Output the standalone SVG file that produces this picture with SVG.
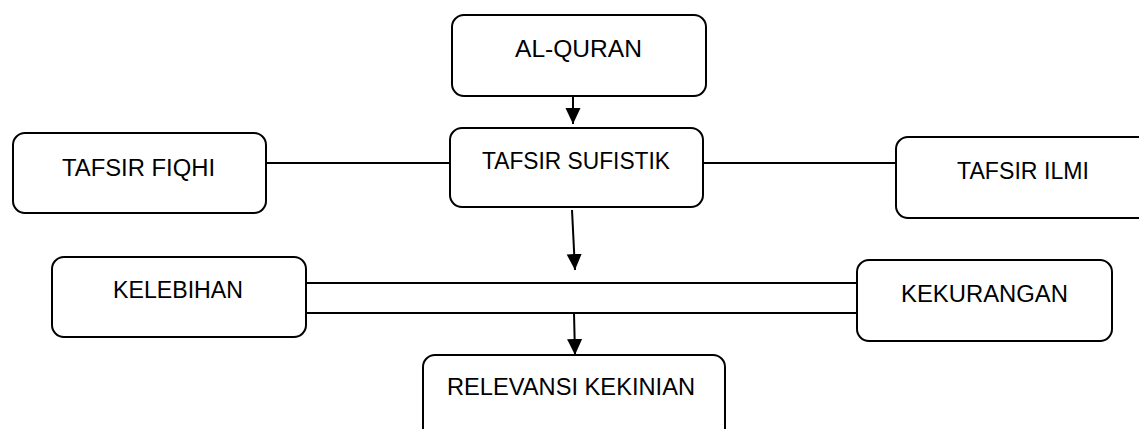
<svg xmlns="http://www.w3.org/2000/svg" width="1139" height="429" viewBox="0 0 1139 429">
<style>
.box{fill:#fff;stroke:#000;stroke-width:2}
.lbl{font-family:"Liberation Sans",Arial,sans-serif;font-size:23.5px;fill:#000;text-anchor:middle}
.ln{stroke:#000;stroke-width:2;fill:none}
</style>
<defs>
<marker id="ah" markerUnits="userSpaceOnUse" markerWidth="16" markerHeight="17" viewBox="0 0 17 16" refX="17" refY="8" orient="auto">
<path d="M0,0 L17,8 L0,16 z" fill="#000"/>
</marker>
</defs>
<rect width="1139" height="429" fill="#fff"/>
<g id="connectors">
<line class="ln" x1="266" y1="163" x2="450" y2="163"/>
<line class="ln" x1="703" y1="163" x2="896" y2="163"/>
<line class="ln" x1="306" y1="283" x2="857" y2="283"/>
<line class="ln" x1="306" y1="313" x2="857" y2="313"/>
<line class="ln" x1="573" y1="96" x2="573" y2="124" marker-end="url(#ah)"/>
<line class="ln" x1="572" y1="210" x2="575" y2="270" marker-end="url(#ah)"/>
<line class="ln" x1="574" y1="313" x2="575" y2="355" marker-end="url(#ah)"/>
</g>
<g id="alquran">
<rect class="box" x="452" y="15" width="254" height="81" rx="12"/>
<text class="lbl" x="578.5" y="57" textLength="127" lengthAdjust="spacingAndGlyphs">AL-QURAN</text>
</g>
<g id="sufistik">
<rect class="box" x="450" y="128" width="253" height="79" rx="12"/>
<text class="lbl" x="576" y="169" textLength="188" lengthAdjust="spacingAndGlyphs">TAFSIR SUFISTIK</text>
</g>
<g id="fiqhi">
<rect class="box" x="13" y="133" width="253" height="80" rx="12"/>
<text class="lbl" x="138.5" y="176" textLength="153" lengthAdjust="spacingAndGlyphs">TAFSIR FIQHI</text>
</g>
<g id="ilmi">
<rect class="box" x="896" y="137" width="260" height="81" rx="12"/>
<text class="lbl" x="1023" y="179" textLength="132" lengthAdjust="spacingAndGlyphs">TAFSIR ILMI</text>
</g>
<g id="kelebihan">
<rect class="box" x="52" y="257" width="254" height="80" rx="12"/>
<text class="lbl" x="178" y="298" textLength="130" lengthAdjust="spacingAndGlyphs">KELEBIHAN</text>
</g>
<g id="kekurangan">
<rect class="box" x="857" y="260" width="255" height="81" rx="12"/>
<text class="lbl" x="984.5" y="302" textLength="167" lengthAdjust="spacingAndGlyphs">KEKURANGAN</text>
</g>
<g id="relevansi">
<rect class="box" x="423" y="355" width="302" height="85" rx="12"/>
<text class="lbl" x="571" y="395" textLength="248" lengthAdjust="spacingAndGlyphs">RELEVANSI KEKINIAN</text>
</g>
</svg>
